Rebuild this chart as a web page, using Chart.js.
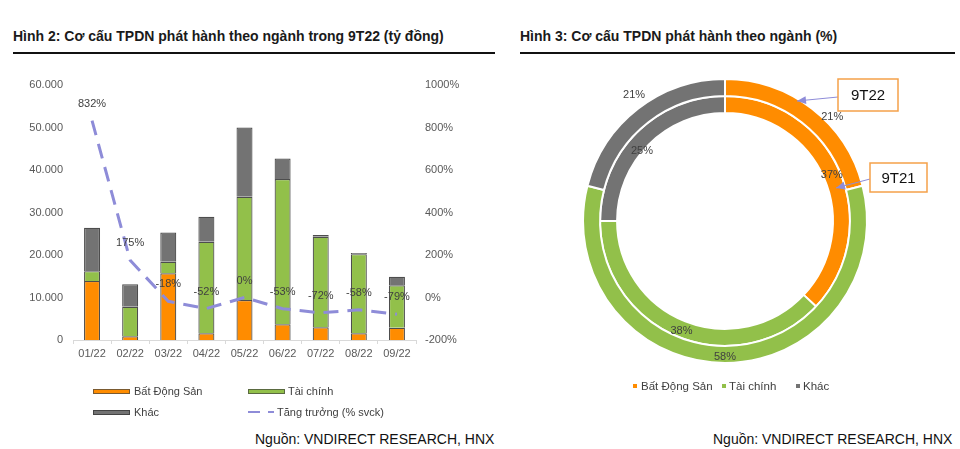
<!DOCTYPE html>
<html>
<head>
<meta charset="utf-8">
<script src="https://cdn.jsdelivr.net/npm/chart.js@4.4.1/dist/chart.umd.min.js"></script>
<style>
  html,body{margin:0;padding:0;background:#fff;}
  body{width:960px;height:449px;position:relative;overflow:hidden;font-family:"Liberation Sans",Arial,sans-serif;}
  .title{position:absolute;top:28px;font-weight:bold;font-size:14px;color:#1a1a1a;white-space:nowrap;}
  .rule{position:absolute;top:52px;height:2px;background:#111;}
  .src{position:absolute;top:431px;font-size:14px;color:#111;white-space:nowrap;}
  .lg{position:absolute;font-size:11px;color:#404040;white-space:nowrap;line-height:12px;}
  .sw{position:absolute;width:35px;height:3px;}
  .dot{position:absolute;width:4px;height:4px;}
  canvas{position:absolute;}
</style>
</head>
<body>
<div class="title" style="left:13px;">Hình 2: Cơ cấu TPDN phát hành theo ngành trong 9T22 (tỷ đồng)</div>
<div class="rule" style="left:13px;width:482px;"></div>
<div class="title" style="left:520px;">Hình 3: Cơ cấu TPDN phát hành theo ngành (%)</div>
<div class="rule" style="left:520px;width:435px;"></div>

<div style="position:absolute;left:0;top:0;width:500px;height:370px;"><canvas id="bar" width="500" height="370"></canvas></div>
<div style="position:absolute;left:500px;top:60px;width:460px;height:330px;"><canvas id="donut" width="460" height="330"></canvas></div>

<!-- left legend -->
<div class="sw" style="left:93px;top:389px;background:#ff8c00;border:1px solid #7a5a30;"></div>
<div class="lg" style="left:134px;top:385px;">Bất Động Sản</div>
<div class="sw" style="left:248px;top:389px;background:#92c04a;border:1px solid #5a6a40;"></div>
<div class="lg" style="left:288px;top:385px;">Tài chính</div>
<div class="sw" style="left:93px;top:410px;background:#737373;border:1px solid #444;"></div>
<div class="lg" style="left:134px;top:406px;">Khác</div>
<div style="position:absolute;left:248px;top:411px;width:12px;height:2px;background:#8e8cd8;"></div>
<div style="position:absolute;left:268px;top:411px;width:6px;height:2px;background:#8e8cd8;"></div>
<div class="lg" style="left:277px;top:406px;">Tăng trưởng (% svck)</div>

<!-- right legend -->
<div class="dot" style="left:633px;top:384px;background:#ff8c00;"></div>
<div class="lg" style="left:641px;top:380px;font-size:11.5px;">Bất Động Sản</div>
<div class="dot" style="left:722px;top:384px;background:#92c04a;"></div>
<div class="lg" style="left:729px;top:380px;font-size:11.5px;">Tài chính</div>
<div class="dot" style="left:796px;top:384px;background:#737373;"></div>
<div class="lg" style="left:803px;top:380px;font-size:11.5px;">Khác</div>

<div class="src" style="left:255px;">Nguồn: VNDIRECT RESEARCH, HNX</div>
<div class="src" style="left:713px;">Nguồn: VNDIRECT RESEARCH, HNX</div>

<script>
// ---- Data ----
const months = ['01/22','02/22','03/22','04/22','05/22','06/22','07/22','08/22','09/22'];
const batDongSan = [13900, 900, 15700, 1600, 9400, 3700, 3000, 1600, 2900];
const taiChinh   = [2300, 6900, 2700, 21500, 24300, 34200, 21300, 18600, 10000];
const khac       = [10200, 5300, 6900, 5900, 16300, 4800, 400, 300, 2000];
const tangTruong = [832, 175, -18, -52, 0, -53, -72, -58, -79];

const sectors = ['Bất Động Sản','Tài chính','Khác'];
const share9T22 = [21, 58, 21];
const share9T21 = [37, 38, 25];

const ORANGE = '#ff8c00', GREEN = '#92c04a', GREY = '#737373', LAV = '#8e8cd8';
const FONT = '"Liberation Sans", Arial, sans-serif';

function fmtThousands(v){
  return String(v).replace(/\B(?=(\d{3})+(?!\d))/g, '.');
}

// ---- Bar + line chart ----
const lineLabels = {
  id:'lineLabels',
  afterDatasetsDraw(chart){
    const ctx = chart.ctx;
    const meta = chart.getDatasetMeta(3);
    ctx.save();
    ctx.font = '11px ' + FONT;
    ctx.fillStyle = '#404040';
    ctx.textAlign = 'center';
    ctx.textBaseline = 'middle';
    meta.data.forEach((pt, i) => {
      ctx.fillText(tangTruong[i] + '%', pt.x, pt.y - 17);
    });
    ctx.restore();
  }
};

new Chart(document.getElementById('bar'), {
  data: {
    labels: months,
    datasets: [
      {type:'bar', label:'Bất Động Sản', data: batDongSan, backgroundColor: ORANGE, borderColor:'#4d4d4d', borderWidth:1.2, yAxisID:'y', order:1, barPercentage:0.42, categoryPercentage:1},
      {type:'bar', label:'Tài chính', data: taiChinh, backgroundColor: GREEN, borderColor:'#4d4d4d', borderWidth:1.2, yAxisID:'y', order:1, barPercentage:0.42, categoryPercentage:1},
      {type:'bar', label:'Khác', data: khac, backgroundColor: GREY, borderColor:'#4d4d4d', borderWidth:1.2, yAxisID:'y', order:1, barPercentage:0.42, categoryPercentage:1},
      {type:'line', label:'Tăng trưởng (% svck)', data: tangTruong, borderColor: LAV, borderWidth:3, borderDash:[15,9], pointRadius:0, tension:0, fill:false, yAxisID:'y1', order:0}
    ]
  },
  options: {
    responsive:false, animation:false, devicePixelRatio:1,
    layout:{padding:{top:85, bottom:10, left:0, right:0}},
    plugins:{legend:{display:false}, tooltip:{enabled:false}},
    scales:{
      x:{
        stacked:true,
        grid:{display:true, drawOnChartArea:false, drawTicks:true, tickLength:4, color:'#d9d9d9', offset:true},
        border:{display:true, color:'#d9d9d9'},
        ticks:{font:{size:11, family:FONT}, color:'#595959', padding:3},
        afterFit(s){ s.height = 20; }
      },
      y:{
        stacked:true, position:'left', min:0, max:60000,
        grid:{display:false, drawTicks:false}, border:{display:false},
        ticks:{stepSize:10000, font:{size:11, family:FONT}, color:'#595959', padding:10, callback:v=>fmtThousands(v)},
        afterFit(s){ s.width = 73; }
      },
      y1:{
        position:'right', min:-200, max:1000,
        grid:{display:false, drawTicks:false}, border:{display:false},
        ticks:{stepSize:200, font:{size:11, family:FONT}, color:'#595959', padding:9, callback:v=>v+'%'},
        afterFit(s){ s.width = 84; }
      }
    }
  },
  plugins:[lineLabels]
});

// ---- Doughnut ----
const donutExtras = {
  id:'donutExtras',
  afterDatasetsDraw(chart, args, opts){
    const ctx = chart.ctx;
    ctx.save();
    ctx.font = '11px ' + FONT;
    ctx.fillStyle = '#404040';
    ctx.textAlign = 'center';
    ctx.textBaseline = 'middle';
    chart.data.datasets.forEach((ds, di) => {
      const meta = chart.getDatasetMeta(di);
      meta.data.forEach((arc, i) => {
        const adj = opts.shift[di][i];
        const mid = (arc.startAngle + arc.endAngle)/2 + adj[0]*Math.PI/180;
        const r = (arc.innerRadius + arc.outerRadius)/2 + adj[1];
        ctx.fillText(ds.data[i] + '%', arc.x + Math.cos(mid)*r, arc.y + Math.sin(mid)*r);
      });
    });
    // callouts
    const a = chart.getDatasetMeta(0).data[0];
    const cx = a.x, cy = a.y;
    const callouts = opts.callouts;
    callouts.forEach(c => {
      ctx.strokeStyle = LAV; ctx.fillStyle = LAV; ctx.lineWidth = 1;
      const x1 = cx + c.from[0], y1 = cy + c.from[1], x2 = cx + c.to[0], y2 = cy + c.to[1];
      ctx.beginPath(); ctx.moveTo(x1,y1); ctx.lineTo(x2,y2); ctx.stroke();
      const ang = Math.atan2(y2-y1, x2-x1), L = 9, W = 4;
      ctx.beginPath();
      ctx.moveTo(x2,y2);
      ctx.lineTo(x2 - L*Math.cos(ang) + W*Math.sin(ang), y2 - L*Math.sin(ang) - W*Math.cos(ang));
      ctx.lineTo(x2 - L*Math.cos(ang) - W*Math.sin(ang), y2 - L*Math.sin(ang) + W*Math.cos(ang));
      ctx.closePath(); ctx.fill();
      const bx = cx + c.box[0], by = cy + c.box[1];
      ctx.fillStyle = '#fff';
      ctx.fillRect(bx, by, c.box[2], c.box[3]);
      ctx.strokeStyle = '#f5a14a'; ctx.lineWidth = 1.5;
      ctx.strokeRect(bx, by, c.box[2], c.box[3]);
      ctx.fillStyle = '#111';
      ctx.font = '15px ' + FONT;
      ctx.fillText(c.text, bx + c.box[2]/2, by + c.box[3]/2 + 1);
      ctx.font = '11px ' + FONT;
    });
    ctx.restore();
  }
};

new Chart(document.getElementById('donut'), {
  type:'doughnut',
  data:{
    labels: sectors,
    datasets:[
      {label:'9T22', data: share9T22, backgroundColor:[ORANGE, GREEN, GREY], borderColor:'#fff', borderWidth:2, hoverBorderWidth:2},
      {label:'9T21', data: share9T21, backgroundColor:[ORANGE, GREEN, GREY], borderColor:'#fff', borderWidth:2, hoverBorderWidth:2}
    ]
  },
  options:{
    responsive:false, animation:false, devicePixelRatio:1,
    cutout:'76%',
    layout:{padding:{left:82, top:18, right:92, bottom:26}},
    plugins:{
      legend:{display:false}, tooltip:{enabled:false},
      donutExtras:{
        shift:[ [[8,16],[0,2],[2,22]], [[0,0],[0,2],[-5,-8]] ],
        callouts:[
          {text:'9T22', box:[113,-142,60,32], from:[113,-124], to:[72,-120]},
          {text:'9T21', box:[145,-58,57,29], from:[145,-42], to:[111,-33]}
        ]
      }
    }
  },
  plugins:[donutExtras]
});
</script>
</body>
</html>
